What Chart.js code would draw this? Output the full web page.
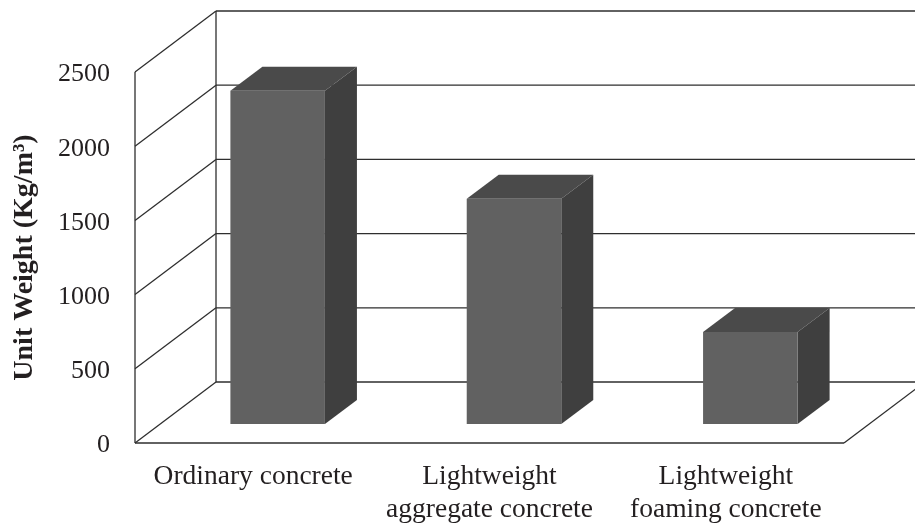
<!DOCTYPE html>
<html>
<head>
<meta charset="utf-8">
<style>html,body{margin:0;padding:0;background:#fff}#wrap{width:915px;height:523px}</style>
<script src="https://cdn.jsdelivr.net/npm/chart.js@4"></script>
</head>
<body>
<div id="wrap"><canvas id="c" width="915" height="523"></canvas></div>
<script>
const categories = [["Ordinary concrete"], ["Lightweight", "aggregate concrete"], ["Lightweight", "foaming concrete"]];
const unitWeight = [2245, 1518, 620];
const yTicks = [0, 500, 1000, 1500, 2000, 2500];
const axisTitle = "Unit Weight (Kg/m³)";

const FONT = "'Liberation Serif','Times New Roman',serif";
const TEXT = "#231f20", LINE = "#2e2e2e";
const WALL = {dx: 81, dy: -61};     // depth of the plot box
const SHIFT = {dx: 24.5, dy: -19};  // bar placement inside the box
const BAR = {dx: 32, dy: -24};      // depth of each bar
const FRONT = "#616161", TOP = "#4a4a4a", SIDE = "#3f3f3f";

function seg(ctx, x1, y1, x2, y2) {
  ctx.beginPath(); ctx.moveTo(x1, y1); ctx.lineTo(x2, y2); ctx.stroke();
}
function poly(ctx, pts, fill) {
  ctx.beginPath();
  pts.forEach((p, i) => i ? ctx.lineTo(p[0], p[1]) : ctx.moveTo(p[0], p[1]));
  ctx.closePath(); ctx.fillStyle = fill; ctx.fill();
}

const box3d = {
  id: "box3d",
  beforeDatasetsDraw(chart) {
    const {ctx, scales: {x, y}, chartArea: a} = chart;
    ctx.save();
    ctx.strokeStyle = LINE; ctx.lineWidth = 1.3;
    yTicks.forEach(v => {
      const py = y.getPixelForValue(v);
      seg(ctx, a.left, py, a.left + WALL.dx, py + WALL.dy);
      seg(ctx, a.left + WALL.dx, py + WALL.dy, chart.width, py + WALL.dy);
    });
    const y0 = y.getPixelForValue(0), yMax = y.getPixelForValue(2500);
    seg(ctx, a.left, y0, a.left, yMax);
    seg(ctx, a.left + WALL.dx, y0 + WALL.dy, a.left + WALL.dx, yMax + WALL.dy);
    seg(ctx, a.left, y0, a.right, y0);
    seg(ctx, a.right, y0, a.right + WALL.dx, y0 + WALL.dy);
    chart.getDatasetMeta(0).data.forEach(el => {
      const l = el.x - el.width / 2 + SHIFT.dx, r = el.x + el.width / 2 + SHIFT.dx;
      const t = el.y + SHIFT.dy, b = el.base + SHIFT.dy;
      poly(ctx, [[l, t], [r, t], [r + BAR.dx, t + BAR.dy], [l + BAR.dx, t + BAR.dy]], TOP);
      poly(ctx, [[r, t], [r + BAR.dx, t + BAR.dy], [r + BAR.dx, b + BAR.dy], [r, b]], SIDE);
    });
    ctx.restore();
    ctx.save();
    ctx.translate(SHIFT.dx, SHIFT.dy);
  },
  afterDatasetsDraw(chart) { chart.ctx.restore(); }
};

new Chart(document.getElementById("c"), {
  type: "bar",
  data: {
    labels: categories,
    datasets: [{
      label: axisTitle,
      data: unitWeight,
      backgroundColor: FRONT,
      borderWidth: 0,
      barPercentage: 0.4,
      categoryPercentage: 1,
      clip: false
    }]
  },
  plugins: [box3d],
  options: {
    responsive: false,
    animation: false,
    layout: {padding: {top: 72, right: 71, left: 0, bottom: 0}},
    plugins: {legend: {display: false}, tooltip: {enabled: false}},
    scales: {
      x: {
        grid: {display: false},
        border: {display: false},
        afterFit(s) { s.height = 80; },
        ticks: {color: TEXT, font: {family: FONT, size: 27.5, lineHeight: 1.2}, padding: 9, maxRotation: 0, autoSkip: false}
      },
      y: {
        min: 0, max: 2500,
        grid: {display: false},
        border: {display: false},
        afterFit(s) {
          s.width = 135;
          if (!s._nudged) {
            s._nudged = true;
            const compute = s._computeLabelItems;
            s._computeLabelItems = function (area) {
              return compute.call(this, area).map(item => {
                item.textOffset += 2.5;
                return item;
              });
            };
          }
        },
        afterBuildTicks(s) { s.ticks = yTicks.map(v => ({value: v})); },
        ticks: {color: TEXT, font: {family: FONT, size: 26}, padding: 17, callback: v => String(v)},
        title: {display: true, text: axisTitle, color: TEXT, font: {family: FONT, size: 28, weight: "bold"}, padding: {top: 8, bottom: 0}}
      }
    }
  }
});
</script>
</body>
</html>
